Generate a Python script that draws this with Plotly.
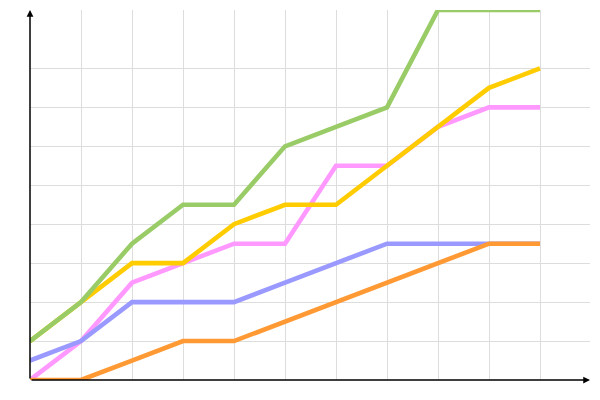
import plotly.graph_objects as go

x_vals = list(range(11))
green = [2, 4, 7, 9, 9, 12, 13, 14, 19, 19, 19]
yellow = [2, 4, 6, 6, 8, 9, 9, 11, 13, 15, 16]
pink = [0, 2, 5, 6, 7, 7, 11, 11, 13, 14, 14]
blue = [1, 2, 4, 4, 4, 5, 6, 7, 7, 7, 7]
orange = [0, 0, 1, 2, 2, 3, 4, 5, 6, 7, 7]

series = [
    ("pink", pink, "#ff99ff"),
    ("yellow", yellow, "#ffcc00"),
    ("blue", blue, "#9999ff"),
    ("orange", orange, "#ff9933"),
    ("green", green, "#99cc66"),
]

fig = go.Figure()
for name, vals, col in series:
    fig.add_trace(go.Scatter(x=x_vals, y=vals, mode="lines", name=name,
                             line=dict(color=col, width=4.6), cliponaxis=False))

XMAX = 560 / 51
YMAX = 19
fig.update_layout(
    width=600, height=400,
    margin=dict(l=22, r=18, t=2, b=28),
    plot_bgcolor="white", paper_bgcolor="white",
    showlegend=False,
    xaxis=dict(range=[0, XMAX], tickvals=list(range(1, 11)), showticklabels=False,
               showgrid=True, gridcolor="#dddddd", gridwidth=1, zeroline=False,
               showline=False, ticks=""),
    yaxis=dict(range=[0, YMAX], tickvals=list(range(2, 17, 2)), showticklabels=False,
               showgrid=True, gridcolor="#dddddd", gridwidth=1, zeroline=False,
               showline=False, ticks=""),
)
fig.add_annotation(x=XMAX, y=0, ax=0, ay=0, xref="x", yref="y", axref="x", ayref="y",
                   text="", showarrow=True, arrowhead=2, arrowsize=0.9,
                   arrowwidth=1.5, arrowcolor="black")
fig.add_annotation(x=0, y=YMAX, ax=0, ay=0, xref="x", yref="y", axref="x", ayref="y",
                   text="", showarrow=True, arrowhead=2, arrowsize=0.9,
                   arrowwidth=1.5, arrowcolor="black")
fig.write_html("out.html")
